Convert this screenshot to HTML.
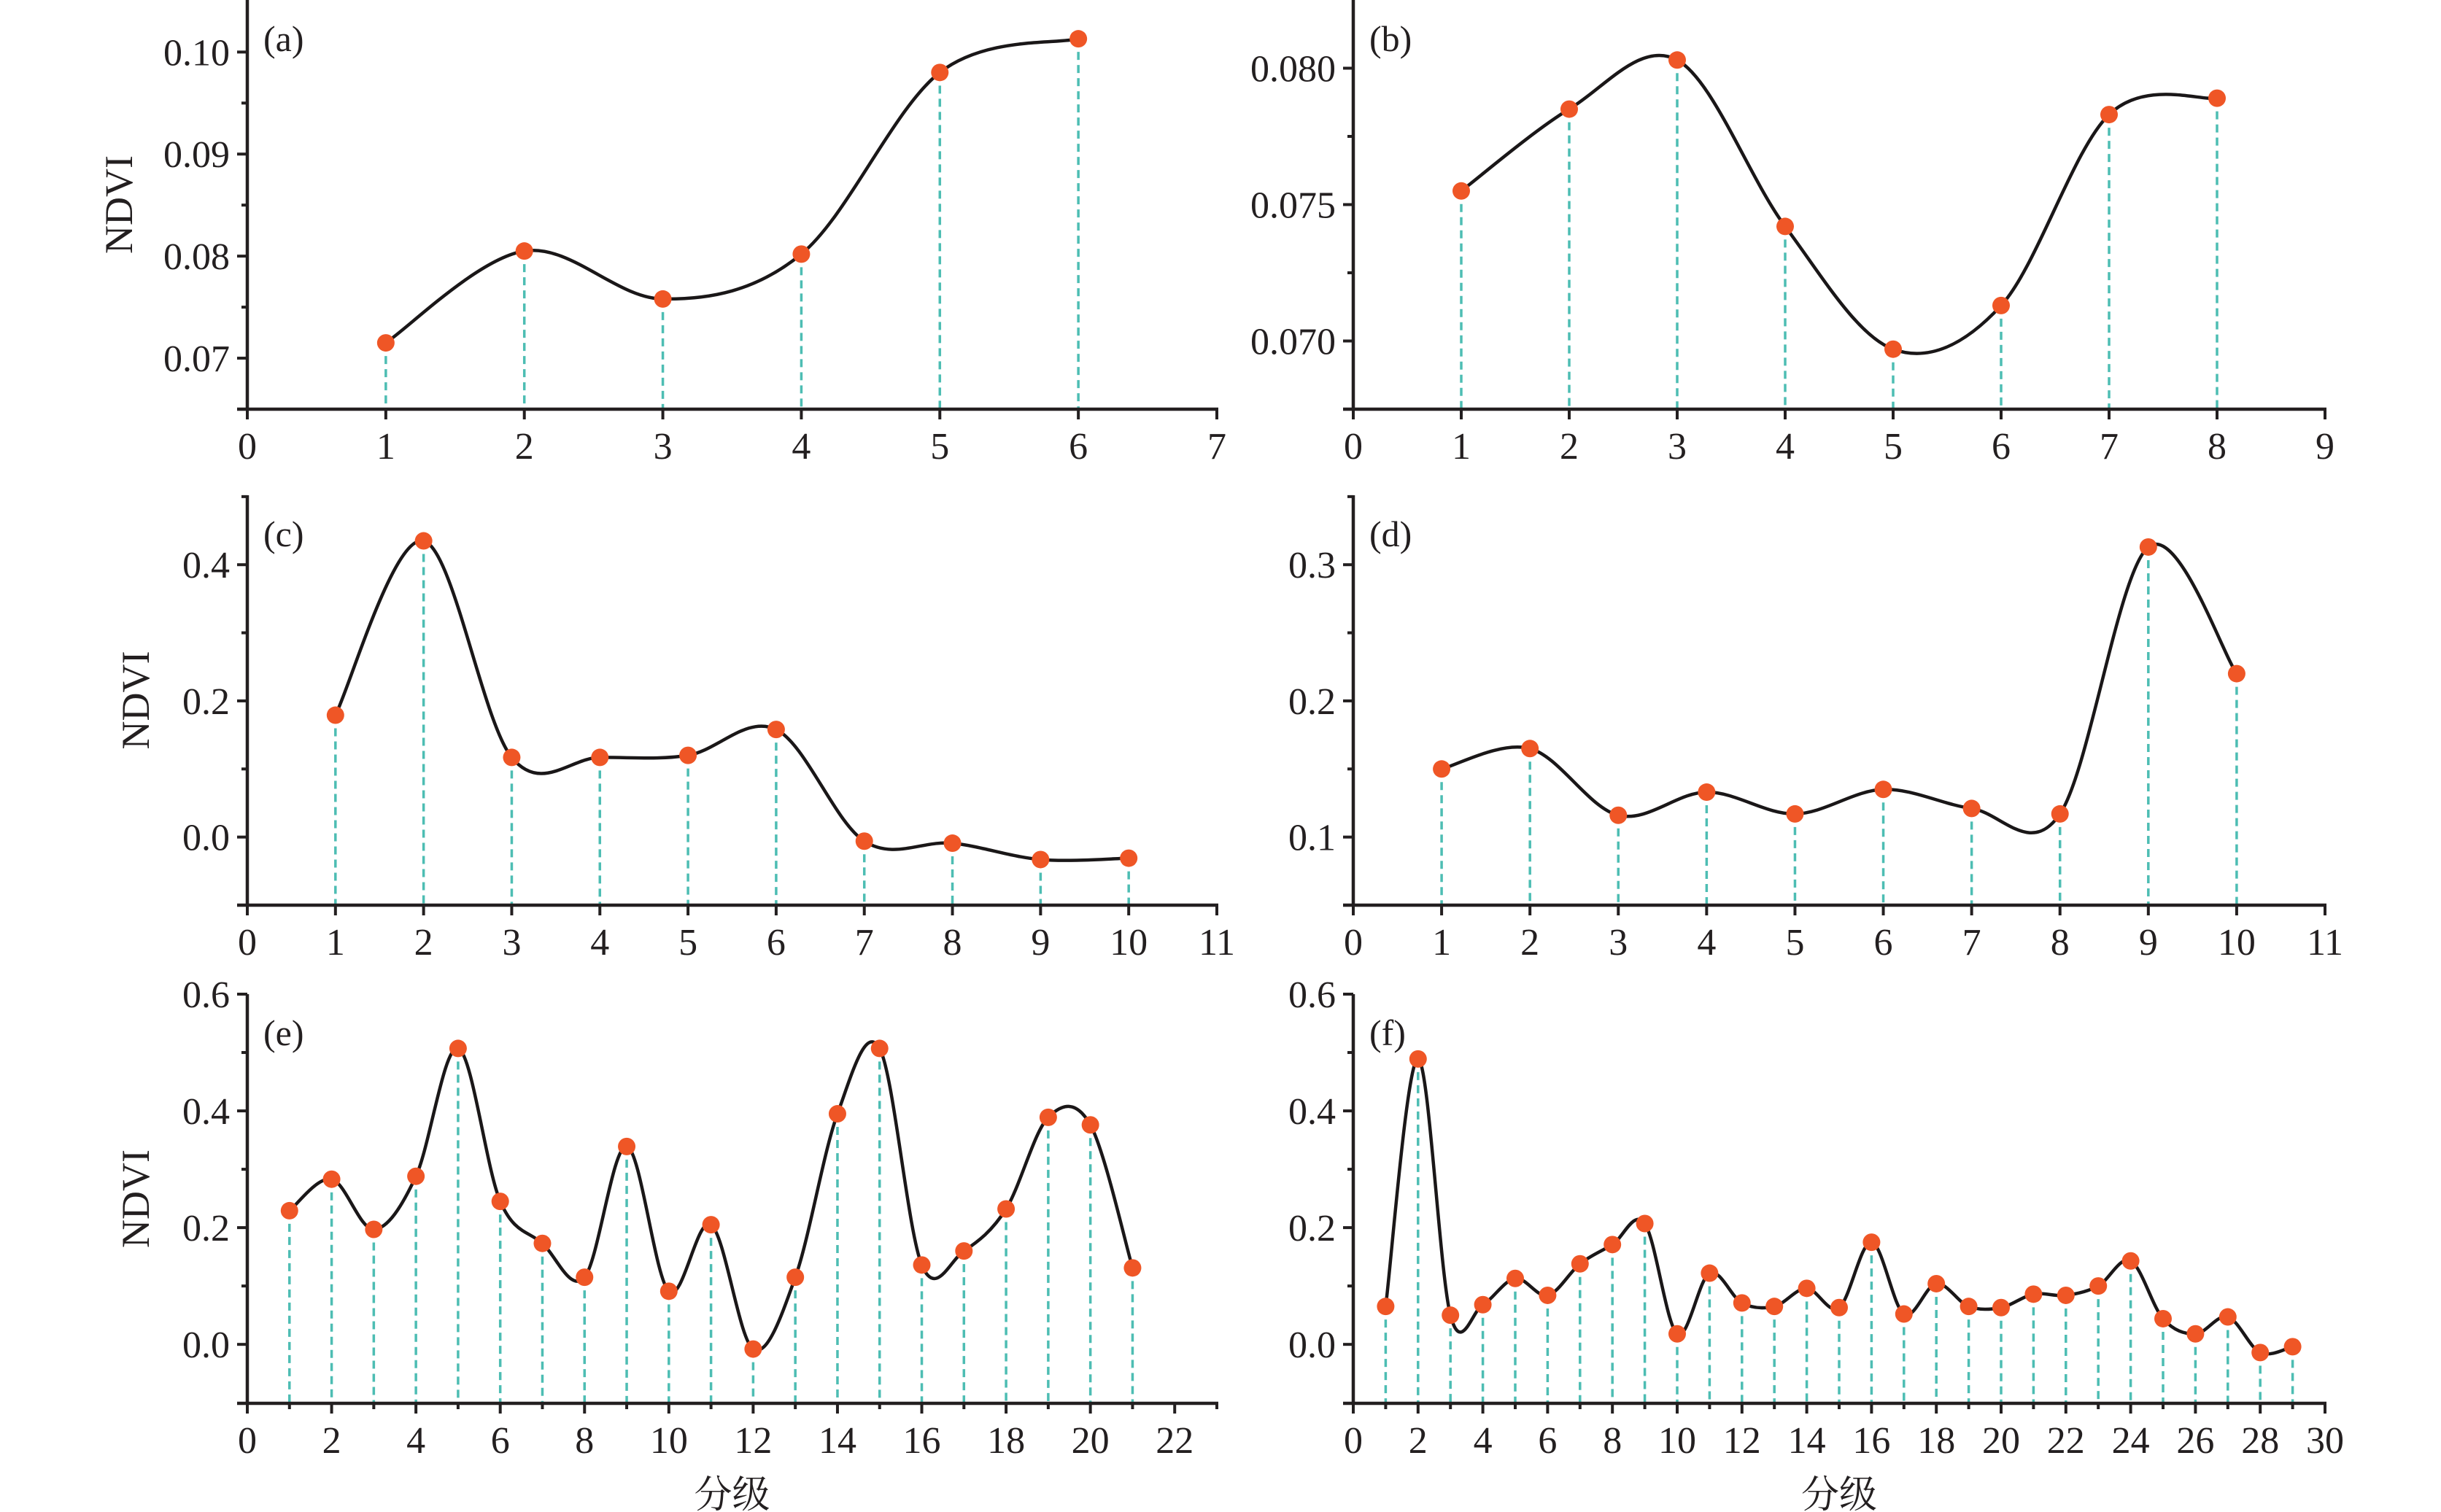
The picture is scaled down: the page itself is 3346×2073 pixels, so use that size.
<!DOCTYPE html>
<html><head><meta charset="utf-8">
<style>
html,body{margin:0;padding:0;background:#fff;}
svg{display:block;}
text{font-family:"Liberation Serif","Noto Serif CJK SC",serif;fill:#231f20;}
</style></head>
<body>
<svg id="chart" width="3346" height="2073" viewBox="0 0 3346 2073" xmlns="http://www.w3.org/2000/svg"></svg>
<script>
// ---- data ----
const aValues = [0.0715, 0.0805, 0.0758, 0.0802, 0.0980, 0.1013];
const bValues = [0.0755, 0.0785, 0.0803, 0.0742, 0.0697, 0.0713, 0.0783, 0.0789];
const cValues = [0.179, 0.435, 0.117, 0.117, 0.120, 0.158, -0.006, -0.009, -0.033, -0.031];
const dValues = [0.150, 0.165, 0.116, 0.133, 0.117, 0.135, 0.121, 0.117, 0.313, 0.220];
const eValues = [0.229, 0.283, 0.197, 0.288, 0.507, 0.245, 0.173, 0.115, 0.339, 0.091, 0.205, -0.008, 0.115, 0.395, 0.507, 0.136, 0.160, 0.232, 0.389, 0.376, 0.131];
const fValues = [0.065, 0.489, 0.050, 0.068, 0.113, 0.084, 0.138, 0.171, 0.207, 0.018, 0.122, 0.071, 0.065, 0.096, 0.063, 0.175, 0.052, 0.104, 0.065, 0.063, 0.086, 0.084, 0.100, 0.143, 0.044, 0.018, 0.047, -0.014, -0.004];

const aYTicks = ['0.07','0.08','0.09','0.10'];
const bYTicks = ['0.070','0.075','0.080'];
const cYTicks = ['0.0','0.2','0.4'];
const dYTicks = ['0.1','0.2','0.3'];
const eYTicks = ['0.0','0.2','0.4','0.6'];
const fYTicks = ['0.0','0.2','0.4','0.6'];
const aYMinor = [0.075, 0.085, 0.095];
const bYMinor = [0.0725, 0.0775];
const cYMinor = [0.1, 0.3, 0.5];
const dYMinor = [0.15, 0.25, 0.35];
const eYMinor = [0.1, 0.3, 0.5];
const fYMinor = [0.1, 0.3, 0.5];
const aXTicks = ['0','1','2','3','4','5','6','7'];
const bXTicks = ['0','1','2','3','4','5','6','7','8','9'];
const cXTicks = ['0','1','2','3','4','5','6','7','8','9','10','11'];
const dXTicks = ['0','1','2','3','4','5','6','7','8','9','10','11'];
const eXTicks = ['0','2','4','6','8','10','12','14','16','18','20','22'];
const fXTicks = ['0','2','4','6','8','10','12','14','16','18','20','22','24','26','28','30'];

const panels = [
 {id:'a', vals:aValues, yt:aYTicks, ym:aYMinor, xt:aXTicks, left:339, right:1668, top:0, bottom:561, xmax:7, ymin:0.065, ymax:0.1051, minorX:false, ylabX:163, xlab:false},
 {id:'b', vals:bValues, yt:bYTicks, ym:bYMinor, xt:bXTicks, left:1855, right:3187, top:0, bottom:561, xmax:9, ymin:0.0675, ymax:0.0825, minorX:false, ylabX:null, xlab:false},
 {id:'c', vals:cValues, yt:cYTicks, ym:cYMinor, xt:cXTicks, left:339, right:1668, top:679, bottom:1241, xmax:11, ymin:-0.1, ymax:0.502, minorX:false, ylabX:186, xlab:false},
 {id:'d', vals:dValues, yt:dYTicks, ym:dYMinor, xt:dXTicks, left:1855, right:3187, top:679, bottom:1241, xmax:11, ymin:0.05, ymax:0.351, minorX:false, ylabX:null, xlab:false},
 {id:'e', vals:eValues, yt:eYTicks, ym:eYMinor, xt:eXTicks, left:339, right:1668, top:1363, bottom:1924, xmax:23, ymin:-0.101, ymax:0.6, minorX:true, ylabX:186, xlab:true},
 {id:'f', vals:fValues, yt:fYTicks, ym:fYMinor, xt:fXTicks, left:1855, right:3187, top:1363, bottom:1924, xmax:30, ymin:-0.101, ymax:0.6, minorX:true, ylabX:null, xlab:true}
];

const NS='http://www.w3.org/2000/svg';
const svg=document.getElementById('chart');
function mk(tag, attrs, parent){
  const el=document.createElementNS(NS,tag);
  for(const k in attrs) el.setAttribute(k, attrs[k]);
  parent.appendChild(el);
  return el;
}

panels.forEach(p=>{
  const g=mk('g',{},svg);
  
  
  const sx=v=>p.left+(v/p.xmax)*(p.right-p.left);
  const sy=v=>p.bottom-(v-p.ymin)/(p.ymax-p.ymin)*(p.bottom-p.top);

  // dashed drop lines
  p.vals.forEach((v,i)=>{
    const l=mk('line',{x1:sx(i+1),x2:sx(i+1),y1:sy(v),y2:p.bottom,stroke:'#4dbdb3','stroke-width':3.5,'stroke-dasharray':'11 7'},g);
    
    
  });

  // smooth curve (Catmull-Rom)
  const pts=p.vals.map((v,i)=>[sx(i+1),sy(v)]);
  let d='M'+pts[0][0]+','+pts[0][1];
  for(let i=0;i<pts.length-1;i++){
    const p0=pts[i-1]||pts[i], p1=pts[i], p2=pts[i+1], p3=pts[i+2]||pts[i+1];
    const c1=[p1[0]+(p2[0]-p0[0])/6, p1[1]+(p2[1]-p0[1])/6];
    const c2=[p2[0]-(p3[0]-p1[0])/6, p2[1]-(p3[1]-p1[1])/6];
    d+=' C'+c1[0]+','+c1[1]+' '+c2[0]+','+c2[1]+' '+p2[0]+','+p2[1];
  }
  const path=mk('path',{d:d,fill:'none',stroke:'#1a1718','stroke-width':4.5},g);
  
  

  // markers
  pts.forEach((q,i)=>{
    const c=mk('ellipse',{cx:q[0],cy:q[1],rx:12,ry:12,fill:'#ef5626'},g);
    
    
  });

  // axes
  const ax=mk('line',{x1:p.left,x2:p.left,y1:p.top,y2:p.bottom+2,stroke:'#231f20','stroke-width':4.5},g);
  
  
  const bx=mk('line',{x1:p.left-14,x2:p.right+2,y1:p.bottom,y2:p.bottom,stroke:'#231f20','stroke-width':4.5},g);
  
  

  // y ticks
  p.yt.forEach(t=>{
    const y=sy(parseFloat(t));
    mk('line',{x1:p.left-14,x2:p.left,y1:y,y2:y,stroke:'#231f20','stroke-width':4},g);
    const tx=mk('text',{x:p.left-24,y:y+18,'font-size':52,'text-anchor':'end'},g);
    tx.textContent=t;
    
    
  });
  p.ym.forEach(v=>{
    const y=sy(v);
    mk('line',{x1:p.left-8,x2:p.left,y1:y,y2:y,stroke:'#231f20','stroke-width':4},g);
  });

  // x ticks
  const step=p.minorX?2:1;
  for(let i=0;i<=p.xmax;i++){
    const x=sx(i);
    const major=(i%step===0);
    mk('line',{x1:x,x2:x,y1:p.bottom,y2:p.bottom+(major?14:8),stroke:'#231f20','stroke-width':4},g);
  }
  p.xt.forEach(t=>{
    const x=sx(parseFloat(t));
    const tx=mk('text',{x:x,y:p.bottom+68,'font-size':52,'text-anchor':'middle'},g);
    tx.textContent=t;
    
    
  });

  // panel label
  const pl=mk('text',{x:p.left+22,y:p.top+70,'font-size':50},g);
  pl.textContent='('+p.id+')';
  
  

  // y title
  if(p.ylabX){
    const cy=(p.top+p.bottom)/2;
    const yl=mk('text',{x:p.ylabX,y:cy,'font-size':54,'text-anchor':'middle',transform:'rotate(-90 '+p.ylabX+' '+cy+')','dominant-baseline':'central'},g);
    yl.textContent='NDVI';
    
    
  }
  // x title
  if(p.xlab){
    const xl=mk('text',{x:(p.left+p.right)/2,y:p.bottom+143,'font-size':52,'text-anchor':'middle'},g);
    xl.textContent='分级';
    
    
  }
});
</script>
</body></html>
